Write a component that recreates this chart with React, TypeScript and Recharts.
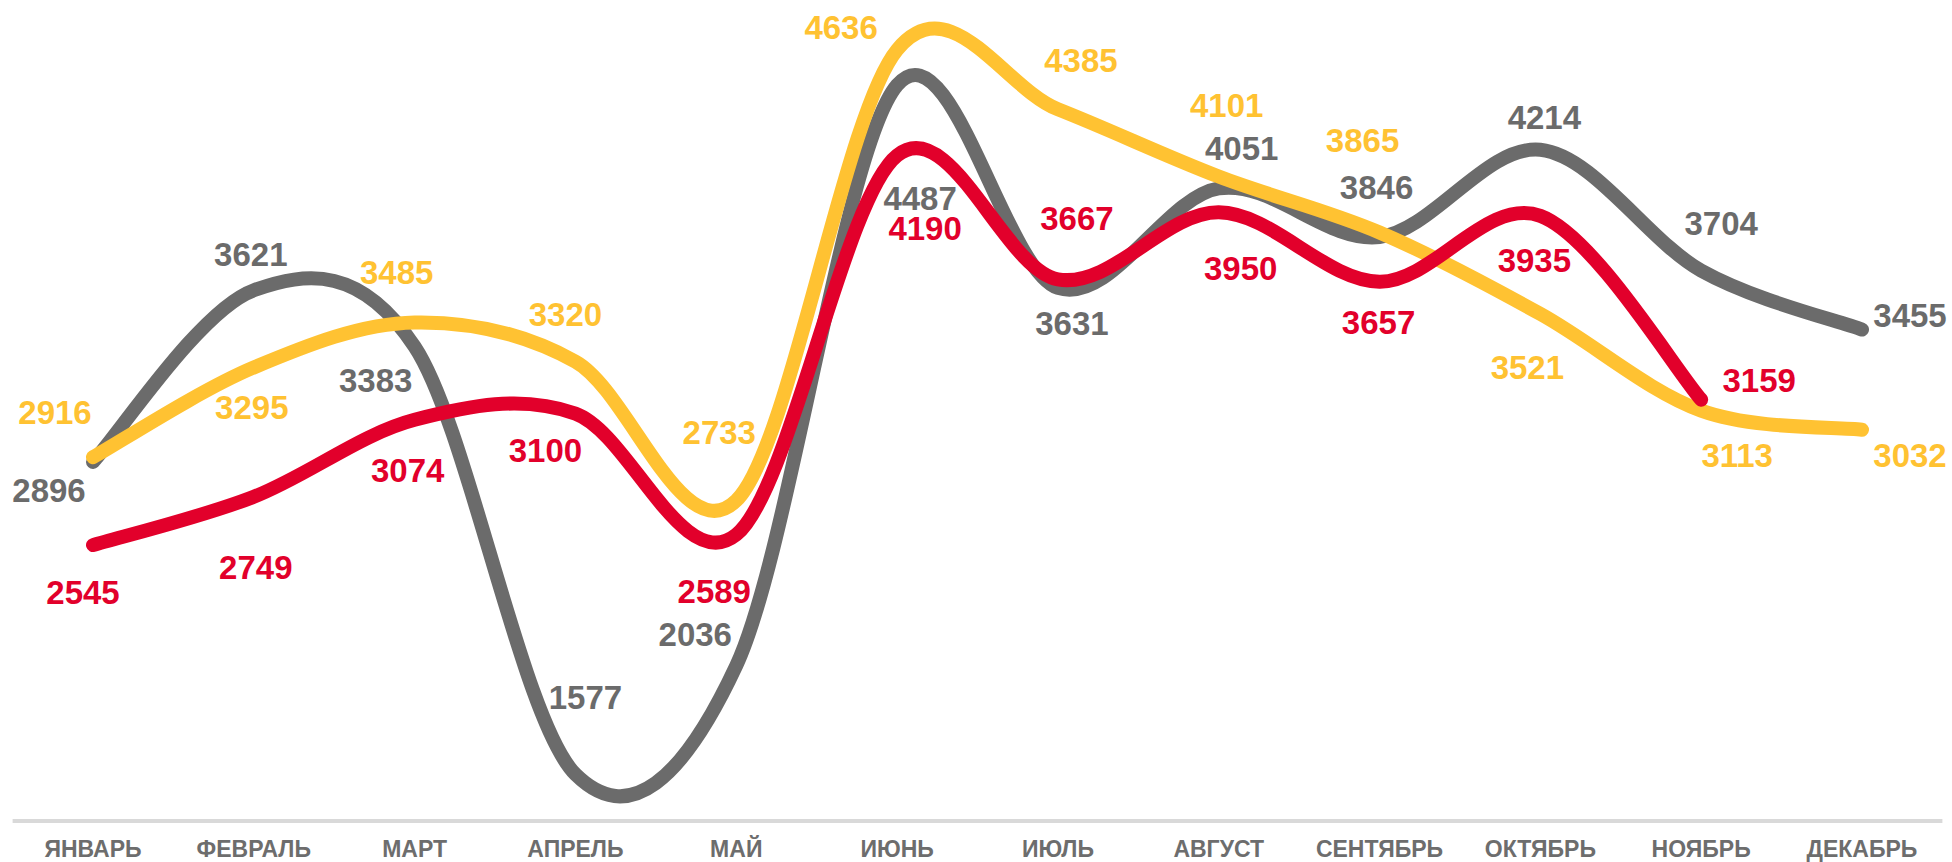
import { LineChart, Line, XAxis, YAxis } from "recharts";

const months = [
  "ЯНВАРЬ",
  "ФЕВРАЛЬ",
  "МАРТ",
  "АПРЕЛЬ",
  "МАЙ",
  "ИЮНЬ",
  "ИЮЛЬ",
  "АВГУСТ",
  "СЕНТЯБРЬ",
  "ОКТЯБРЬ",
  "НОЯБРЬ",
  "ДЕКАБРЬ",
];

const grayValues = [2896, 3621, 3383, 1577, 2036, 4487, 3631, 4051, 3846, 4214, 3704, 3455];
const yellowValues = [2916, 3295, 3485, 3320, 2733, 4636, 4385, 4101, 3865, 3521, 3113, 3032];
const redValues = [2545, 2749, 3074, 3100, 2589, 4190, 3667, 3950, 3657, 3935, 3159, null];

// label offsets from each point (hand-placed in the original)
const grayLabelPos = [
  [-44, 28], [-3, -36], [-39, 33], [10, -77], [-41, -32], [23, 113],
  [14, 35], [23, -40], [-3, -50], [4, -33], [20, -48], [48, -15],
];
const yellowLabelPos = [
  [-38, -45], [-2, 40], [-18, -50], [-10, -48], [-17, -69], [-56, -23],
  [23, -49], [8, -72], [-17, -92], [-13, 53], [36, 44], [48, 25],
];
const redLabelPos = [
  [-10, 47], [2, 70], [-7, 50], [-30, 36], [-22, 56], [28, 73],
  [19, -61], [22, 56], [-1, 40], [-6, 44], [58, -20], [0, 0],
];

const data = months.map((m, i) => ({
  month: m,
  gray: grayValues[i],
  yellow: yellowValues[i],
  red: redValues[i],
}));

// Excel-like smoothed line (catmull-rom style bezier)
function smoothCurve(context: any) {
  let xs: number[] = [];
  let ys: number[] = [];
  return {
    areaStart() {},
    areaEnd() {},
    lineStart() {
      xs = [];
      ys = [];
    },
    point(x: number, y: number) {
      xs.push(+x);
      ys.push(+y);
    },
    lineEnd() {
      const n = xs.length;
      if (!n) return;
      context.moveTo(xs[0], ys[0]);
      for (let i = 0; i < n - 1; i++) {
        const a = i > 0 ? i - 1 : i;
        const d = i + 2 < n ? i + 2 : i + 1;
        const c1x = xs[i] + (xs[i + 1] - xs[a]) / 6;
        const c1y = ys[i] + (ys[i + 1] - ys[a]) / 6;
        const c2x = xs[i + 1] - (xs[d] - xs[i]) / 6;
        const c2y = ys[i + 1] - (ys[d] - ys[i]) / 6;
        context.bezierCurveTo(c1x, c1y, c2x, c2y, xs[i + 1], ys[i + 1]);
      }
    },
  };
}

const FONT = "'Liberation Sans', Arial, sans-serif";
const GRAY = "#6b6b6b";
const YELLOW = "#ffc232";
const RED = "#e2002b";

function makeLabel(color: string, pos: number[][]) {
  return (props: any) => {
    const { x, y, index, value } = props;
    if (value == null || x == null || y == null) return null;
    const [dx, dy] = pos[index] || [0, 0];
    return (
      <text
        key={index}
        x={x + dx}
        y={y + dy + 12}
        textAnchor="middle"
        fill={color}
        fontFamily={FONT}
        fontWeight={700}
        fontSize={33}
      >
        {value}
      </text>
    );
  };
}

function MonthTick(props: any) {
  const { x, y, payload } = props;
  return (
    <text
      x={x}
      y={y}
      dy={36}
      textAnchor="middle"
      fill="#6d6d6d"
      fontFamily={FONT}
      fontWeight={700}
      fontSize={23}
    >
      {payload.value}
    </text>
  );
}

export default function App() {
  return (
    <div style={{ position: "absolute", left: 0, top: 0, background: "#fff" }}>
      <LineChart
        width={1950}
        height={862}
        data={data}
        margin={{ top: 11, right: 7.6, left: 12.6, bottom: 0 }}
      >
        <XAxis
          dataKey="month"
          height={41}
          tickSize={0}
          tickMargin={0}
          tickLine={false}
          padding={{ left: 80.4, right: 80.4 }}
          axisLine={{ stroke: "#d9d9d9", strokeWidth: 4 }}
          tick={<MonthTick />}
          interval={0}
        />
        <YAxis hide domain={[1380, 4800]} />
        <Line
          dataKey="gray"
          type={smoothCurve as any}
          stroke={GRAY}
          strokeWidth={14}
          strokeLinecap="round"
          dot={false}
          activeDot={false}
          isAnimationActive={false}
          label={makeLabel(GRAY, grayLabelPos)}
        />
        <Line
          dataKey="yellow"
          type={smoothCurve as any}
          stroke={YELLOW}
          strokeWidth={14}
          strokeLinecap="round"
          dot={false}
          activeDot={false}
          isAnimationActive={false}
          label={makeLabel(YELLOW, yellowLabelPos)}
        />
        <Line
          dataKey="red"
          type={smoothCurve as any}
          stroke={RED}
          strokeWidth={14}
          strokeLinecap="round"
          dot={false}
          activeDot={false}
          isAnimationActive={false}
          label={makeLabel(RED, redLabelPos)}
        />
      </LineChart>
    </div>
  );
}
